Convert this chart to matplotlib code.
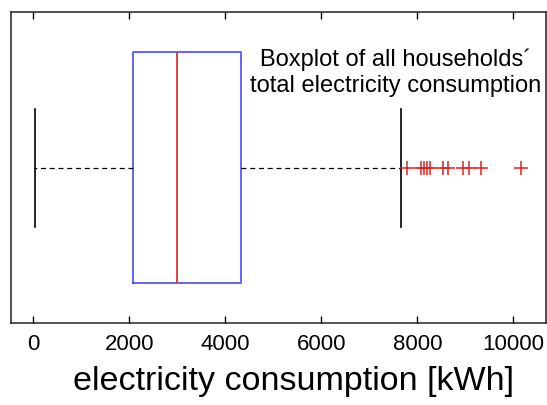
import matplotlib
matplotlib.use("Agg")
import matplotlib.pyplot as plt

plt.rcParams['font.family'] = ['Liberation Sans', 'DejaVu Sans']

# Boxplot statistics (kWh)
whisker_low = 35
q1 = 2083
median = 3000
q3 = 4320
whisker_high = 7655
outliers = [7792, 8083, 8146, 8208, 8258, 8529, 8640, 8946, 9083, 9321, 10167]
xticks = [0, 2000, 4000, 6000, 8000, 10000]

stats = [dict(whislo=whisker_low, q1=q1, med=median, q3=q3, whishi=whisker_high,
              fliers=outliers, label='')]

fig = plt.figure(figsize=(5.47, 4.06), dpi=100)
ax = fig.add_axes([0.0201, 0.202, 0.9772, 0.765])

ax.bxp(stats, positions=[1], widths=0.743, vert=False, showfliers=True,
       boxprops=dict(color='#4a4aff', linewidth=1.2),
       medianprops=dict(color='#dd2222', linewidth=1.2),
       whiskerprops=dict(color='black', linewidth=0.9, linestyle=(0, (4, 3))),
       capprops=dict(color='black', linewidth=1.2),
       flierprops=dict(marker='+', markeredgecolor='#dd2222', markersize=10,
                       markeredgewidth=1.1, linestyle='none'),
       capwidths=0.38)

ax.set_xlim(-465, 10670)
ax.set_ylim(0.5, 1.5)
ax.set_xticks(xticks)
ax.set_xticklabels([str(t) for t in xticks])
ax.set_yticks([])
ax.tick_params(axis='x', direction='in', top=True, length=5, width=1,
               labelsize=16, pad=7)
for s in ax.spines.values():
    s.set_linewidth(1.1)
    s.set_color('#222222')

ax.set_xlabel('electricity consumption [kWh]', fontsize=24.5, labelpad=12)
ax.xaxis.set_label_coords(0.528, -0.135)
ax.xaxis.label.set_va('top')
ax.text(0.72, 0.81, 'Boxplot of all households´\ntotal electricity consumption',
        transform=ax.transAxes, ha='center', va='center', fontsize=17,
        linespacing=1.25)

fig.savefig('out.png', dpi=100)
